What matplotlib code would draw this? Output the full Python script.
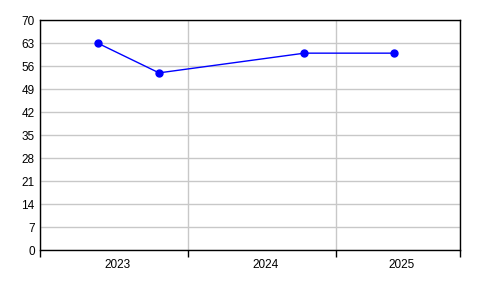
import matplotlib
matplotlib.use("Agg")
import matplotlib.pyplot as plt
import matplotlib.dates as mdates
import matplotlib.transforms as mtransforms
import numpy as np
import datetime as dt

dates = ["2023-05-24", "2023-10-22", "2024-10-16", "2025-05-27"]
values = [63, 54, 60, 60]
year_labels = ["2023", "2024", "2025"]
x_start, x_end = "2023-01-01", "2025-11-06"
y_ticks = list(range(0, 71, 7))

plt.rcParams['font.family'] = ['Liberation Sans', 'DejaVu Sans']

fig = plt.figure(figsize=(4.96, 2.96), dpi=100)
ax = fig.add_axes([40.3/496, (296-250.3)/296, 420/496, 230/296])

xd = [mdates.date2num(dt.date.fromisoformat(d)) for d in dates]
ax.plot(xd, values, color='#0000ff', lw=1, marker='o', markersize=5,
        markerfacecolor='#0000ff', markeredgecolor='#0000ff', zorder=3)

x0 = mdates.date2num(dt.date.fromisoformat(x_start))
x1 = mdates.date2num(dt.date.fromisoformat(x_end))
ax.set_xlim(x0, x1)
ax.set_ylim(0, 70)

# major ticks at year boundaries
bounds = [x0] + [mdates.date2num(dt.date(int(y) + 1, 1, 1)) for y in year_labels[:-1]] + [x1]
ax.set_xticks(bounds)
ax.set_xticklabels([])
mids = [(bounds[i] + bounds[i+1]) / 2 for i in range(len(year_labels))]
ax.set_xticks(mids, minor=True)
ax.set_xticklabels(year_labels, minor=True)
ax.tick_params(axis='x', which='major', length=5, width=1, direction='out', color='black')
ax.tick_params(axis='x', which='minor', length=0, pad=6, labelsize=8.5)
offset = mtransforms.ScaledTranslation(3.5/100, 0, fig.dpi_scale_trans)
for lab in ax.xaxis.get_minorticklabels():
    lab.set_transform(lab.get_transform() + offset)

ax.set_yticks(y_ticks)
ax.set_yticklabels([str(v) for v in y_ticks])
ax.tick_params(axis='y', length=0, pad=4, labelsize=8.5)

ax.grid(True, which='major', color='#c8c8c8', lw=1)
ax.set_axisbelow(True)
for s in ax.spines.values():
    s.set_color('black')
    s.set_linewidth(1)

fig.savefig("out.png", dpi=100)
